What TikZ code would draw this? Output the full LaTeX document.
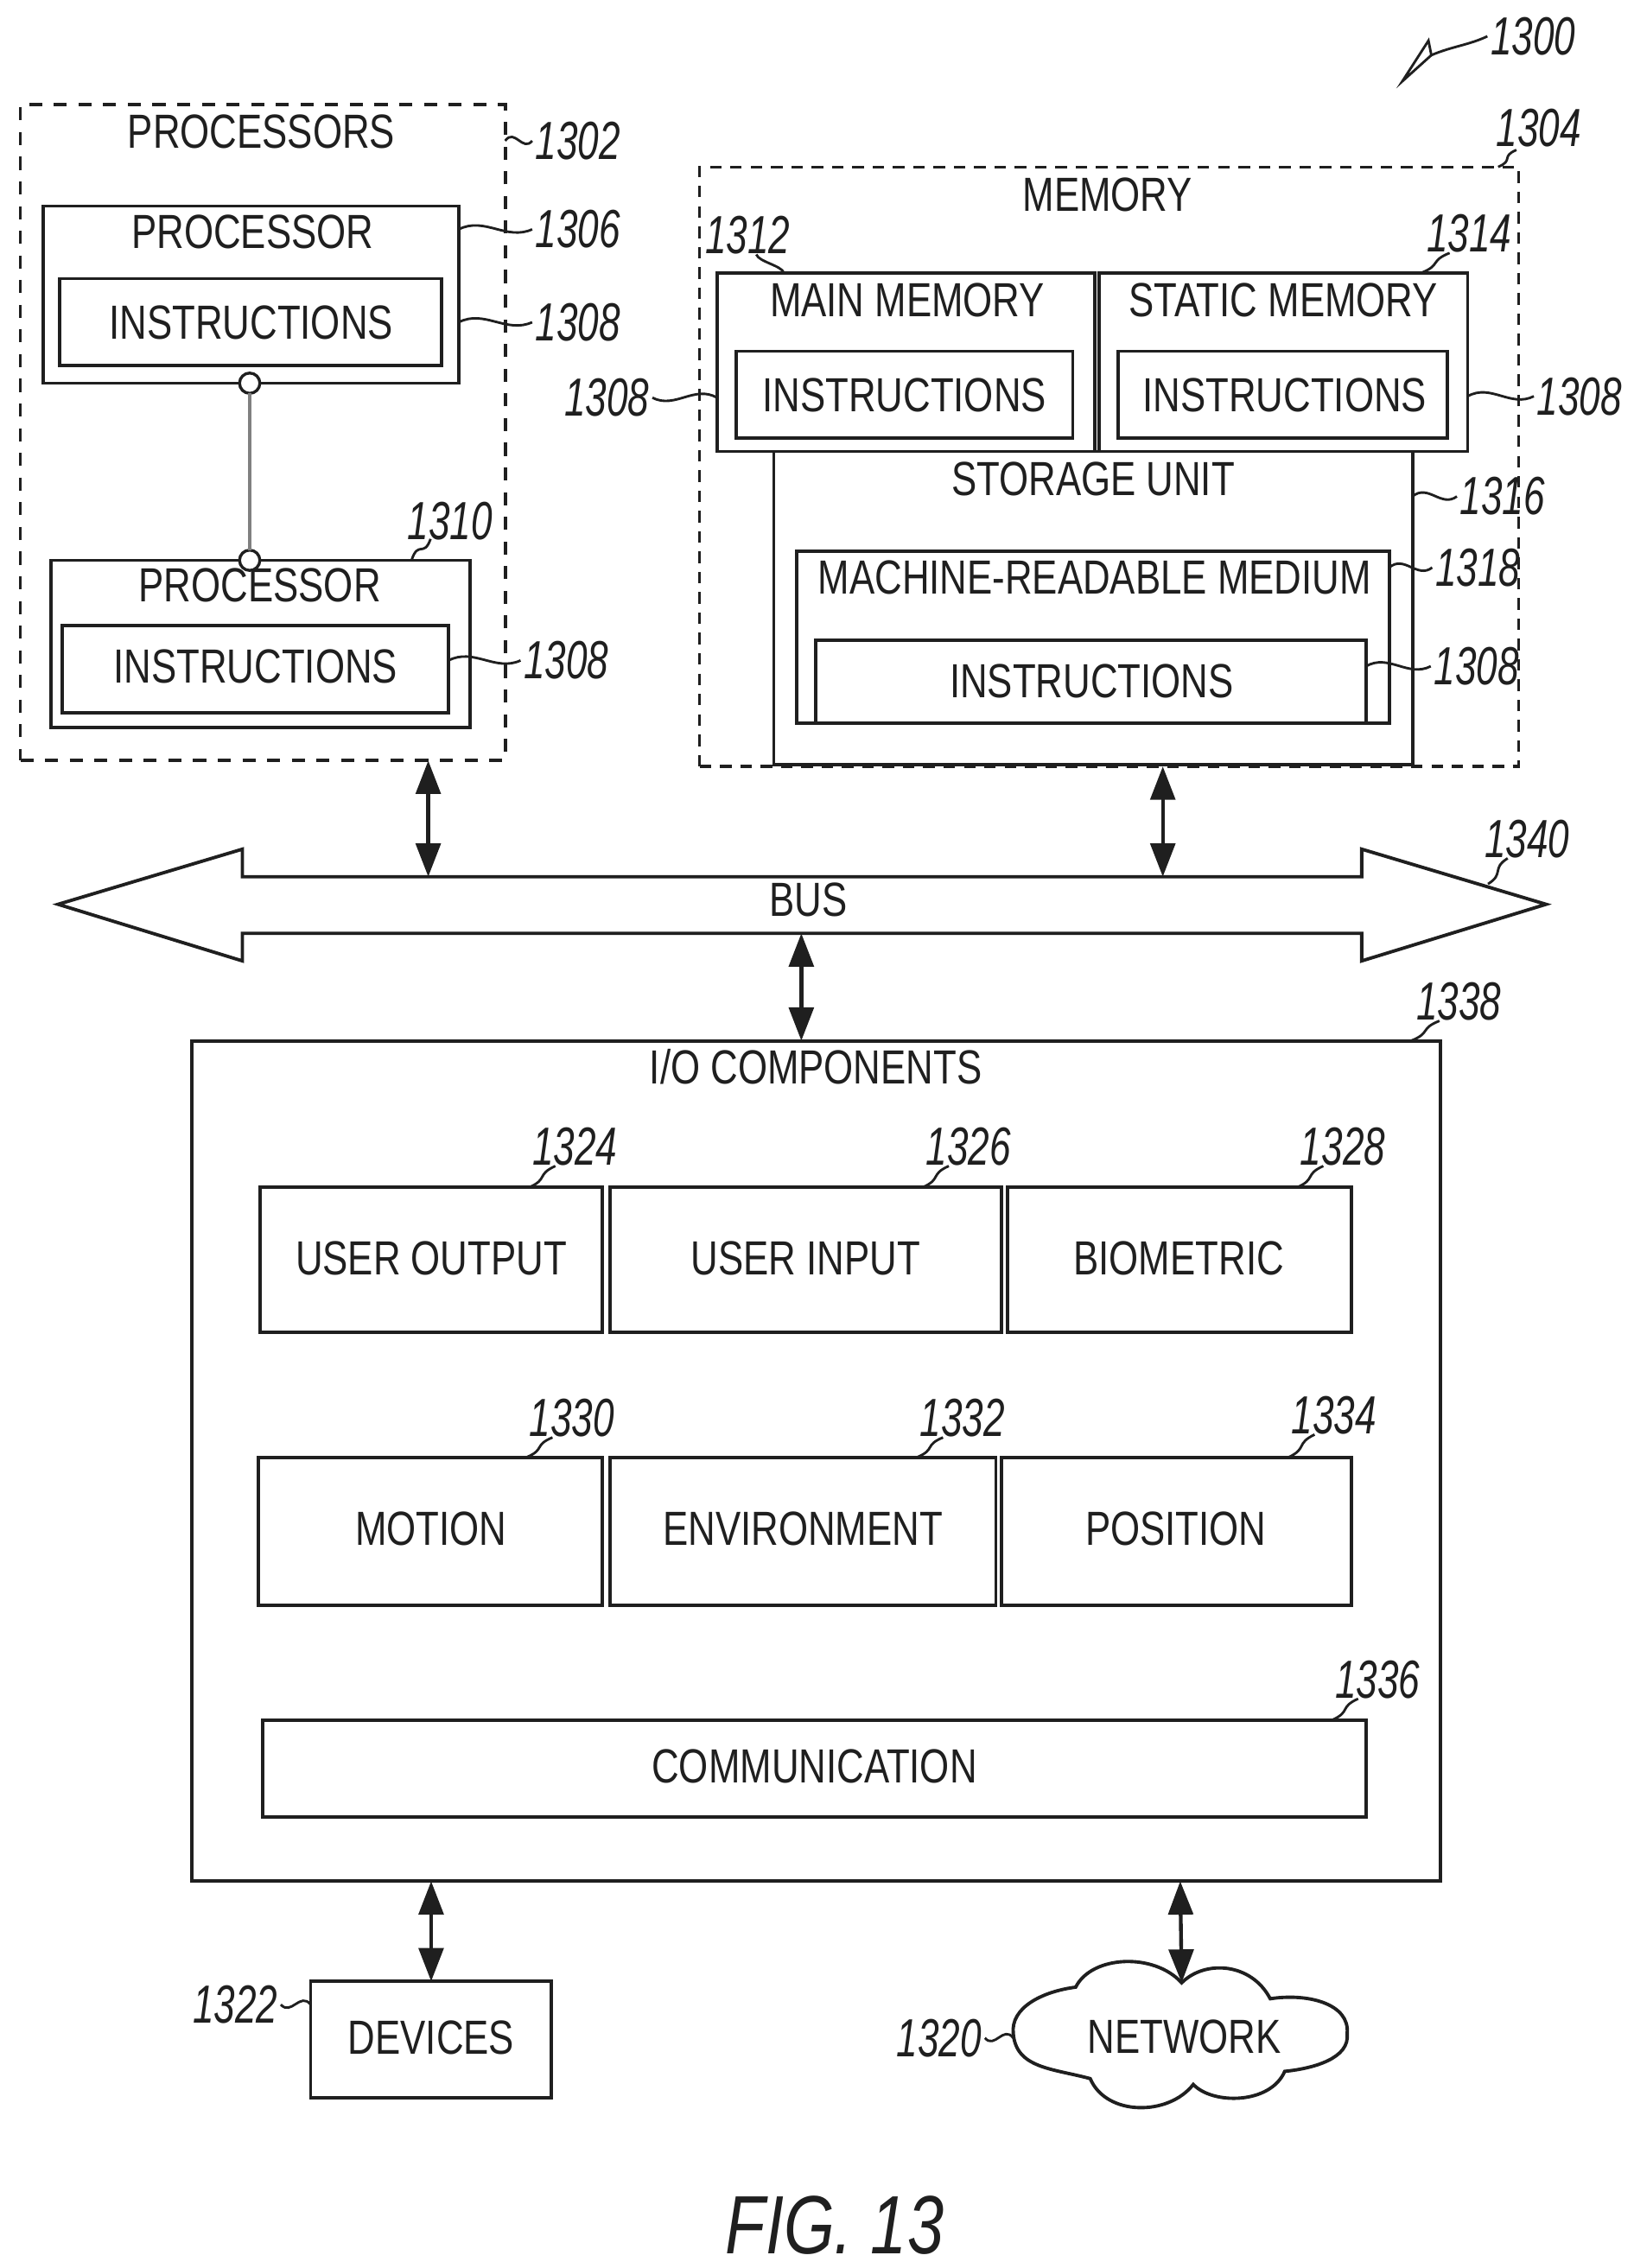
\documentclass[tikz,border=0pt]{standalone}
\usepackage{fontspec}
\setmainfont[FakeStretch=0.79]{Liberation Sans}
\newfontfamily\numfont[FakeStretch=0.71]{Liberation Sans}
\usetikzlibrary{arrows.meta,calc}
\definecolor{ink}{gray}{0.12}
\tikzset{
  boxline/.style={draw=ink,line width=2.3pt,inner sep=0pt,outer sep=0pt,fill=none},
  dashbox/.style={boxline,dash pattern=on 9pt off 8pt},
  dashboxb/.style={boxline,line width=2pt,dash pattern=on 8pt off 6pt},
  txt/.style={text=ink,inner sep=0pt,font=\fontsize{33}{38}\selectfont},
  num/.style={text=ink,inner sep=2pt,font=\fontsize{37}{40}\selectfont\numfont\itshape},
  leader/.style={draw=ink,line width=1.7pt},
  dbl/.style={draw=ink,line width=2.6pt,{Stealth[length=23pt,width=17pt,inset=0pt]}-{Stealth[length=23pt,width=17pt,inset=0pt]}},
  joint/.style={circle,draw=ink,fill=white,line width=2pt,minimum size=14pt,inner sep=0pt,outer sep=0pt}
}
\newcommand{\bx}[6]{%
  \pgfmathsetmacro{\bw}{#4-#2}\pgfmathsetmacro{\bh}{#5-#3}%
  \pgfmathsetmacro{\bcx}{(#2+#4)/2}\pgfmathsetmacro{\bcy}{(#3+#5)/2}%
  \node[#6,minimum width=\bw pt,minimum height=\bh pt] (#1) at (\bcx,\bcy) {};}
\newcommand{\leadh}[2]{%
  \coordinate (LA) at (#1);\coordinate (LB) at (#2);
  \draw[leader] (LA) .. controls ($(LA)!.35!(LB)+(0,8)$) and ($(LA)!.65!(LB)+(0,-9)$) .. (LB);}
\newcommand{\leadv}[2]{%
  \coordinate (LA) at (#1);\coordinate (LB) at (#2);
  \draw[leader] (LA) .. controls ($(LA)!.4!(LB)+(-6,0)$) and ($(LA)!.6!(LB)+(6,0)$) .. (LB);}
\begin{document}
\begin{tikzpicture}[x=1pt,y=-1pt]
\useasboundingbox (0,0) rectangle (1125,1562.5);
% processors
\bx{procs}{14}{72}{348}{524}{dashbox}
\node[txt] (tprocs) at (180,91) {PROCESSORS};
\bx{pa}{30}{142}{316}{264}{boxline}
\node[txt] (tpa) at (174,160) {PROCESSOR};
\bx{ia}{41}{192}{304}{252}{boxline}
\node[txt] (tia) at (173,222) {INSTRUCTIONS};
\bx{pb}{35}{386}{324}{501}{boxline}
\node[txt] (tpb) at (179,403) {PROCESSOR};
\bx{ib}{43}{431}{309}{491}{boxline}
\node[txt] (tib) at (176,459) {INSTRUCTIONS};
\node[joint] (ja) at (172,264) {};
\node[joint] (jb) at (172,386) {};
\draw[draw=black!50,line width=2.2pt] (ja) -- (jb);
% memory
\bx{mem}{482}{115}{1046}{528}{dashboxb}
\node[txt] (tmem) at (763,134) {MEMORY};
\bx{mm}{494}{188}{754}{311}{boxline}
\node[txt] (tmm) at (625,207) {MAIN MEMORY};
\bx{sm}{757}{188}{1011}{311}{boxline}
\node[txt] (tsm) at (884,207) {STATIC MEMORY};
\bx{ic}{507}{242}{739}{302}{boxline}
\node[txt] (tic) at (623,272) {INSTRUCTIONS};
\bx{id}{770}{242}{997}{302}{boxline}
\node[txt] (tid) at (885,272) {INSTRUCTIONS};
\bx{su}{533}{311}{973}{527}{boxline}
\node[txt] (tsu) at (753,330) {STORAGE UNIT};
\bx{mr}{549}{380}{957}{498}{boxline}
\node[txt] (tmr) at (754,398) {MACHINE-READABLE MEDIUM};
\bx{ie}{562}{441}{941}{498}{boxline}
\node[txt] (tie) at (752,469) {INSTRUCTIONS};
% bus
\coordinate (bl) at (40,623); \coordinate (br) at (1065,623);
\coordinate (blt) at (167,604); \coordinate (brt) at (938,604);
\coordinate (blb) at (167,643); \coordinate (brb) at (938,643);
\draw[draw=ink,line width=2.3pt,line join=miter]
  (bl) -- (167,585) -- (blt) -- (brt) -- (938,585) -- (br) -- (938,662) -- (brb) -- (blb) -- (167,662) -- cycle;
\node[txt] (tbus) at (557,620) {BUS};
% I/O
\bx{io}{132}{717}{992}{1296}{boxline}
\node[txt] (tio) at (562,735) {I/O COMPONENTS};
\bx{uo}{179}{818}{415}{918}{boxline}
\node[txt] (tuo) at (297,867) {USER OUTPUT};
\bx{ui}{420}{818}{690}{918}{boxline}
\node[txt] (tui) at (555,867) {USER INPUT};
\bx{bi}{694}{818}{931}{918}{boxline}
\node[txt] (tbi) at (812,867) {BIOMETRIC};
\bx{mo}{178}{1004}{415}{1106}{boxline}
\node[txt] (tmo) at (297,1053) {MOTION};
\bx{en}{420}{1004}{686}{1106}{boxline}
\node[txt] (ten) at (553,1053) {ENVIRONMENT};
\bx{po}{690}{1004}{931}{1106}{boxline}
\node[txt] (tpo) at (810,1053) {POSITION};
\bx{co}{181}{1185}{941}{1252}{boxline}
\node[txt] (tco) at (561,1217) {COMMUNICATION};
% outer
\bx{de}{214}{1365}{380}{1445}{boxline}
\node[txt] (tde) at (297,1404) {DEVICES};
\coordinate (nl) at (698,1401); \coordinate (nn) at (814,1366);
\draw[draw=ink,line width=2.3pt] (nl)
  .. controls (696,1383) and (718,1372) .. (741,1369)
  .. controls (752,1347) and (795,1345) .. (nn)
  .. controls (830,1350) and (862,1352) .. (875,1377)
  .. controls (900,1373) and (930,1380) .. (928,1401)
  .. controls (930,1418) and (905,1425) .. (885,1427)
  .. controls (875,1450) and (835,1450) .. (822,1436)
  .. controls (805,1458) and (762,1458) .. (751,1432)
  .. controls (725,1425) and (700,1425) .. (nl) -- cycle;
\node[txt] (tnet) at (816,1403) {NETWORK};
% arrows
\coordinate (xa) at (295,0); \coordinate (xb) at (801,0); \coordinate (xc) at (552,0);
\coordinate (xd) at (297,0); \coordinate (xe) at (813,0);
\draw[dbl] (procs.south -| xa) -- (blt -| xa);
\draw[dbl] (mem.south -| xb) -- (blt -| xb);
\draw[dbl] (blb -| xc) -- (io.north -| xc);
\draw[dbl] (io.south -| xd) -- (de.north -| xd);
\draw[dbl] (io.south -| xe) -- (nn);
% numbers
\node[num] (n1300) at (1056,25) {1300};
\coordinate (ta) at (966,56);\coordinate (tb) at (984,28);\coordinate (tc) at (986,38);
\draw[leader] (ta) -- (tb) -- (tc) -- cycle;
\draw[leader] (tc) .. controls (1000,32) and (1012,31) .. (n1300.west);
\node[num] (n1302) at (398,97) {1302};
\leadh{n1302.west}{procs.east |- n1302.west}
\node[num] (n1304) at (1060,88) {1304};
\leadv{$(n1304.south west)+(16,0)$}{$(mem.north east)+(-14,0)$}
\node[num] (n1306) at (398,158) {1306};
\leadh{n1306.west}{pa.east |- n1306.west}
\node[num] (n1308a) at (398,222) {1308};
\leadh{n1308a.west}{pa.east |- n1308a.west}
\node[num] (n1308b) at (390,455) {1308};
\leadh{n1308b.west}{ib.east |- n1308b.west}
\node[num] (n1310) at (310,359) {1310};
\leadh{$(n1310.south west)+(18,-3)$}{$(pb.north)+(104,0)$}
\node[num] (n1312) at (515,162) {1312};
\leadv{$(n1312.south)+(6,-2)$}{$(mm.north west)+(46,0)$}
\node[num] (n1314) at (1012,161) {1314};
\leadv{$(n1314.south west)+(18,-2)$}{$(sm.north east)+(-32,0)$}
\node[num] (n1308c) at (418,274) {1308};
\leadh{n1308c.east}{mm.west |- n1308c.east}
\node[num] (n1308d) at (1088,273) {1308};
\leadh{n1308d.west}{sm.east |- n1308d.west}
\node[num] (n1316) at (1035,342) {1316};
\leadh{n1316.west}{su.east |- n1316.west}
\node[num] (n1318) at (1018,391) {1318};
\leadh{n1318.west}{mr.east |- n1318.west}
\node[num] (n1308e) at (1017,459) {1308};
\leadh{n1308e.west}{ie.east |- n1308e.west}
\node[num] (n1340) at (1052,578) {1340};
\leadv{$(n1340.south west)+(18,-2)$}{$(br)+(-40,-14)$}
\node[num] (n1338) at (1005,690) {1338};
\leadv{$(n1338.south west)+(18,-2)$}{$(io.north east)+(-20,0)$}
\node[num] (n1324) at (396,790) {1324};
\leadv{$(n1324.south west)+(18,-2)$}{uo.north -| n1324.south west}
\node[num] (n1326) at (667,790) {1326};
\leadv{$(n1326.south west)+(18,-2)$}{ui.north -| n1326.south west}
\node[num] (n1328) at (925,790) {1328};
\leadv{$(n1328.south west)+(18,-2)$}{bi.north -| n1328.south west}
\node[num] (n1330) at (394,977) {1330};
\leadv{$(n1330.south west)+(18,-2)$}{mo.north -| n1330.south west}
\node[num] (n1332) at (663,977) {1332};
\leadv{$(n1332.south west)+(18,-2)$}{en.north -| n1332.south west}
\node[num] (n1334) at (919,975) {1334};
\leadv{$(n1334.south west)+(18,-2)$}{po.north -| n1334.south west}
\node[num] (n1336) at (949,1157) {1336};
\leadv{$(n1336.south west)+(18,-2)$}{co.north -| n1336.south west}
\node[num] (n1322) at (162,1381) {1322};
\leadh{n1322.east}{de.west |- n1322.east}
\node[num] (n1320) at (647,1404) {1320};
\leadh{n1320.east}{nl |- n1320.east}
\node[text=ink,inner sep=0pt,font=\fontsize{57}{62}\selectfont\itshape] (fig) at (575,1533) {FIG. 13};
\end{tikzpicture}
\end{document}
